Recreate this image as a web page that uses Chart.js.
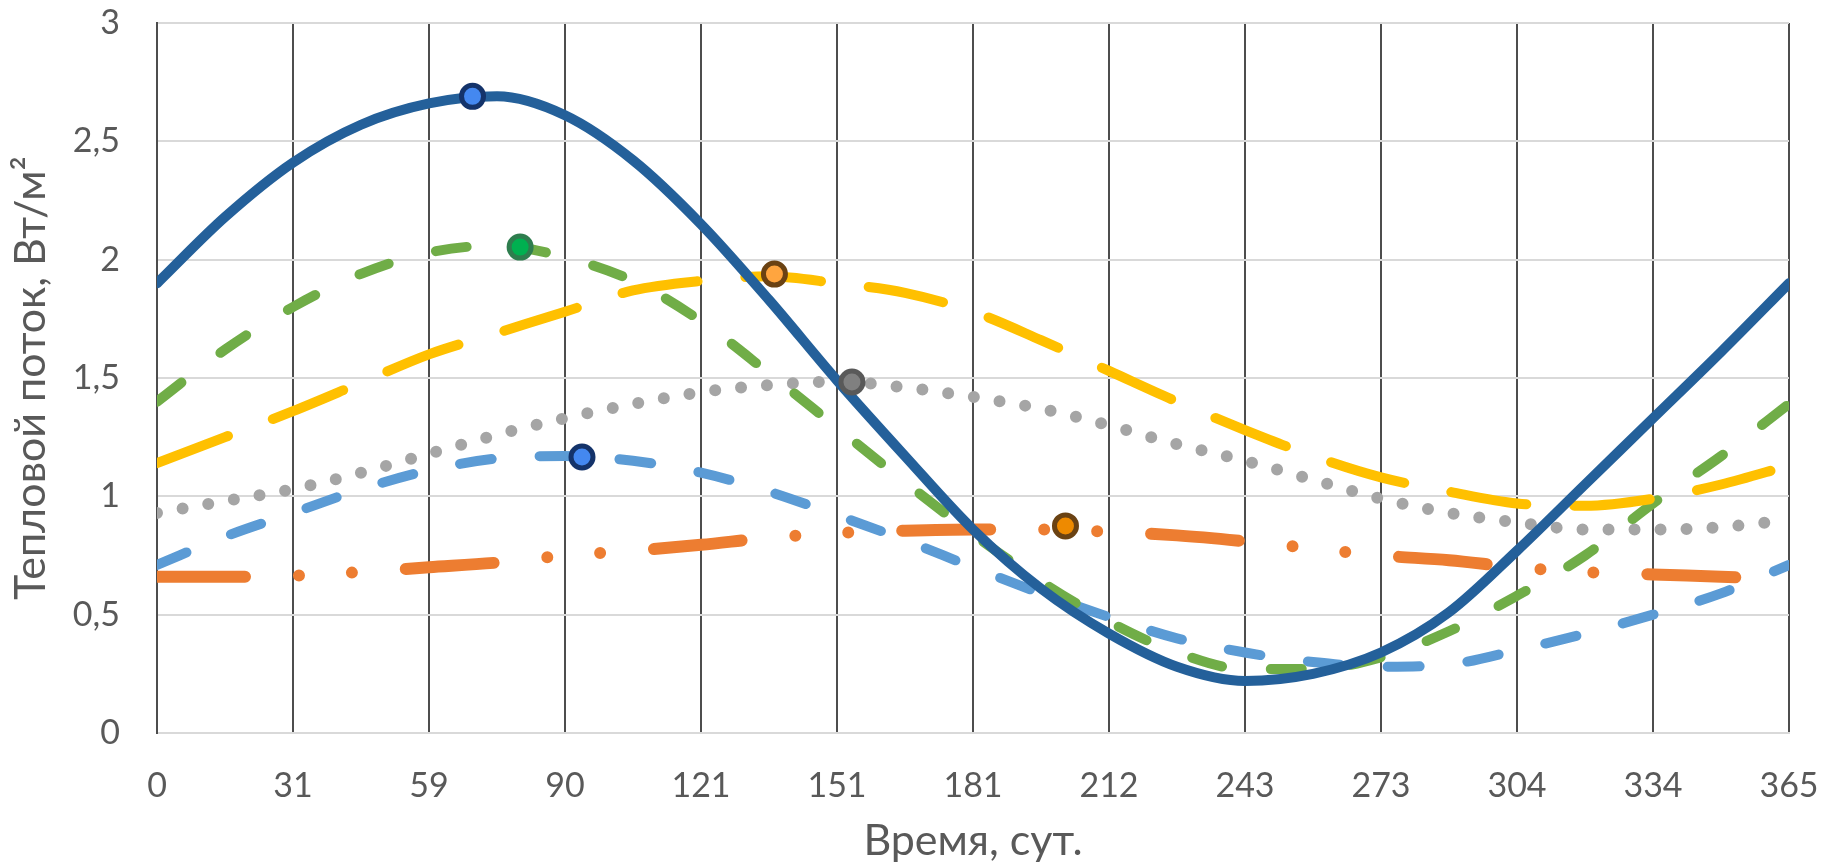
<!DOCTYPE html>
<html>
<head>
<meta charset="utf-8">
<title>Тепловой поток</title>
<script src="https://cdn.jsdelivr.net/npm/chart.js@4.4.1/dist/chart.umd.min.js"></script>
<style>
  html, body { margin: 0; padding: 0; background: #fff; }
  #wrap { width: 1825px; height: 867px; }
</style>
</head>
<body>
<div id="wrap"><canvas id="chart" width="1825" height="867"></canvas></div>
<script>
// x positions in month units (0 = day 0, 12 = day 365)
const X_POS = [0, 0.5, 1, 1.5, 2, 2.5, 3, 3.5, 4, 4.5, 5, 5.5, 6, 6.5, 7, 7.5, 8, 8.5, 9, 9.5, 10, 10.5, 11, 11.5, 12];
const DAY_LABELS = ['0', '31', '59', '90', '121', '151', '181', '212', '243', '273', '304', '334', '365'];

const SOLID_BLUE = [1.90, 2.18, 2.41, 2.57, 2.66, 2.69, 2.61, 2.42, 2.15, 1.83, 1.49, 1.17, 0.86, 0.61, 0.42, 0.28, 0.22, 0.25, 0.34, 0.51, 0.77, 1.05, 1.33, 1.61, 1.90];
const GREEN      = [1.40, 1.62, 1.80, 1.94, 2.03, 2.06, 2.01, 1.91, 1.74, 1.52, 1.29, 1.06, 0.84, 0.64, 0.47, 0.34, 0.27, 0.27, 0.32, 0.43, 0.58, 0.75, 0.97, 1.17, 1.39];
const YELLOW     = [1.14, 1.25, 1.36, 1.48, 1.60, 1.69, 1.78, 1.87, 1.91, 1.93, 1.90, 1.86, 1.78, 1.66, 1.53, 1.40, 1.28, 1.17, 1.08, 1.02, 0.97, 0.96, 0.99, 1.05, 1.13];
const GRAY       = [0.93, 0.98, 1.03, 1.10, 1.18, 1.26, 1.33, 1.39, 1.44, 1.47, 1.485, 1.46, 1.42, 1.37, 1.30, 1.22, 1.15, 1.07, 0.99, 0.93, 0.89, 0.86, 0.86, 0.87, 0.90];
const LIGHT_BLUE = [0.71, 0.83, 0.93, 1.03, 1.11, 1.16, 1.17, 1.15, 1.10, 1.02, 0.92, 0.815, 0.70, 0.59, 0.49, 0.40, 0.34, 0.30, 0.28, 0.29, 0.35, 0.42, 0.50, 0.59, 0.71];
const ORANGE     = [0.66, 0.66, 0.665, 0.68, 0.70, 0.72, 0.75, 0.77, 0.795, 0.825, 0.845, 0.855, 0.86, 0.86, 0.85, 0.835, 0.81, 0.78, 0.75, 0.73, 0.70, 0.68, 0.67, 0.66, 0.65];

// highlighted maxima
const MARK_X = [2.32, 2.67, 4.54, 5.11, 3.125, 6.68];
const MARK_Y = [2.69, 2.053, 1.939, 1.483, 1.166, 0.875];
const MARK_FILL = ['#4488F0', '#00B050', '#FFA53F', '#808080', '#4488F0', '#EE8A00'];
const MARK_EDGE = ['#14336A', '#2E7D4E', '#6A4213', '#595959', '#14336A', '#6A4213'];

const FONT = "Lato, 'Open Sans', sans-serif";
const TEXT = '#595959';

const pts = arr => X_POS.map((x, i) => ({ x, y: arr[i] }));

function series(data, color, dash, width) {
  return {
    data: pts(data),
    borderColor: color,
    borderWidth: width || 10,
    borderDash: dash,
    borderCapStyle: 'round',
    borderJoinStyle: 'round',
    cubicInterpolationMode: 'monotone',
    pointRadius: 0,
    fill: false
  };
}

new Chart(document.getElementById('chart'), {
  type: 'line',
  data: {
    datasets: [
      {
        data: MARK_X.map((x, i) => ({ x, y: MARK_Y[i] })),
        showLine: false,
        pointRadius: 11,
        pointBorderWidth: 5,
        pointBackgroundColor: MARK_FILL,
        pointBorderColor: MARK_EDGE
      },
      series(SOLID_BLUE, '#24609A', []),
      series(YELLOW, '#FFC000', [76, 48]),
      series(GREEN, '#70AD47', [31, 49]),
      series(GRAY, '#A5A5A5', [0, 26], 12),
      series(LIGHT_BLUE, '#5B9BD5', [32, 48]),
      series(ORANGE, '#ED7D31', [88, 54, 0, 53, 0, 54], 12)
    ]
  },
  options: {
    responsive: false,
    devicePixelRatio: 1,
    animation: false,
    layout: { padding: { top: 23, right: 36, left: 0, bottom: 0 } },
    plugins: { legend: { display: false }, tooltip: { enabled: false } },
    scales: {
      x: {
        type: 'linear',
        min: 0,
        max: 12,
        afterFit: s => { s.height = 134; s.paddingLeft = 0; s.paddingRight = 0; },
        grid: { color: '#4d4d4d', lineWidth: 2, drawTicks: false },
        border: { color: '#d9d9d9', width: 2 },
        ticks: {
          stepSize: 1,
          autoSkip: false,
          maxRotation: 0,
          padding: 33,
          color: TEXT,
          font: { family: FONT, size: 34 },
          callback: v => DAY_LABELS[v]
        },
        title: {
          display: true,
          text: 'Время, сут.',
          color: TEXT,
          font: { family: FONT, size: 43 },
          padding: { top: 0, bottom: 0 }
        }
      },
      y: {
        min: 0,
        max: 3,
        afterFit: s => { s.width = 157; s.paddingTop = 0; s.paddingBottom = 0; },
        grid: { color: '#d9d9d9', lineWidth: 2, drawTicks: false },
        border: { color: '#4d4d4d', width: 2 },
        ticks: {
          stepSize: 0.5,
          padding: 37,
          color: TEXT,
          font: { family: FONT, size: 34 },
          callback: v => String(v).replace('.', ',')
        },
        title: {
          display: true,
          text: 'Тепловой поток, Вт/м²',
          color: TEXT,
          font: { family: FONT, size: 43 },
          padding: { top: 5, bottom: 0 }
        }
      }
    }
  }
});
</script>
</body>
</html>
